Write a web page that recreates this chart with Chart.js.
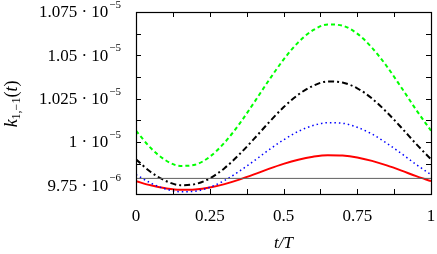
<!DOCTYPE html>
<html>
<head>
<meta charset="utf-8">
<script src="https://cdn.jsdelivr.net/npm/chart.js@4/dist/chart.umd.min.js"></script>
<style>
  html, body { margin: 0; padding: 0; background: #fff; }
  #wrap { width: 437px; height: 254px; }
</style>
</head>
<body>
<div id="wrap"><canvas id="myChart" width="437" height="254"></canvas></div>
<script>
'use strict';

// t/T sample points
const tValues = [0, 0.05, 0.1, 0.15, 0.2, 0.25, 0.3, 0.35, 0.4, 0.45, 0.5,
                 0.55, 0.6, 0.65, 0.7, 0.75, 0.8, 0.85, 0.9, 0.95, 1];

// k values, in units of 1e-6
const greenValues = [10.065, 9.965, 9.895, 9.862, 9.869, 9.915, 9.996, 10.103, 10.227, 10.355, 10.475,
                     10.575, 10.645, 10.678, 10.671, 10.625, 10.544, 10.437, 10.313, 10.185, 10.065];
const blackValues = [9.90, 9.827, 9.776, 9.751, 9.757, 9.79, 9.849, 9.928, 10.018, 10.112, 10.20,
                     10.273, 10.324, 10.349, 10.343, 10.31, 10.251, 10.172, 10.082, 9.988, 9.90];
const blueValues = [9.812, 9.763, 9.729, 9.713, 9.716, 9.739, 9.778, 9.831, 9.891, 9.954, 10.012,
                    10.061, 10.095, 10.111, 10.108, 10.085, 10.046, 9.993, 9.933, 9.870, 9.812];
const redValues = [9.774, 9.75, 9.733, 9.724, 9.726, 9.737, 9.757, 9.783, 9.813, 9.845, 9.874,
                   9.898, 9.915, 9.924, 9.922, 9.911, 9.891, 9.865, 9.835, 9.803, 9.774];
const baseLine = [9.79, 9.79];
const baseX = [0, 1];

// tick labels
const xTickLabels = [
    { value: 0, text: '0' },
    { value: 0.25, text: '0.25' },
    { value: 0.5, text: '0.5' },
    { value: 0.75, text: '0.75' },
    { value: 1, text: '1' }
];
const yTickLabels = [
    { value: 9.75, mant: '9.75', exp: '\u22126' },
    { value: 10, mant: '1', exp: '\u22125' },
    { value: 10.25, mant: '1.025', exp: '\u22125' },
    { value: 10.5, mant: '1.05', exp: '\u22125' },
    { value: 10.75, mant: '1.075', exp: '\u22125' }
];

const FONT = '"Liberation Serif", "DejaVu Serif", serif';

function toPoints(xs, ys) {
    return xs.map(function(x, i) { return { x: x, y: ys[i] }; });
}

function curve(values, color, dash, width) {
    return {
        data: toPoints(tValues, values),
        borderColor: color,
        borderWidth: width,
        borderDash: dash,
        pointRadius: 0,
        fill: false,
        cubicInterpolationMode: 'monotone'
    };
}

/* ticks inward + labels with exponents */
const gnuplotLook = {
    id: 'gnuplotLook',
    afterDatasetsDraw: function(chart) {
        const ctx = chart.ctx;
        const a = chart.chartArea;
        const xs = chart.scales.x;
        const ys = chart.scales.y;
        ctx.save();
        ctx.strokeStyle = '#000';
        ctx.lineWidth = 1;
        ctx.beginPath();
        for (let tick of xs.ticks) {
            const px = Math.round(xs.getPixelForValue(tick.value)) + 0.5;
            ctx.moveTo(px, a.bottom); ctx.lineTo(px, a.bottom - 5);
            ctx.moveTo(px, a.top); ctx.lineTo(px, a.top + 5);
        }
        for (let tick of ys.ticks) {
            const py = Math.round(ys.getPixelForValue(tick.value)) + 0.5;
            ctx.moveTo(a.left, py); ctx.lineTo(a.left + 5, py);
            ctx.moveTo(a.right, py); ctx.lineTo(a.right - 5, py);
        }
        ctx.stroke();
        ctx.lineWidth = 1.2;
        ctx.strokeRect(Math.round(a.left) + 0.5, Math.round(a.top) + 0.5,
                       Math.round(a.right - a.left), Math.round(a.bottom - a.top));

        ctx.fillStyle = '#000';

        // x labels
        ctx.font = '17px ' + FONT;
        ctx.textAlign = 'center';
        ctx.textBaseline = 'middle';
        for (let lab of xTickLabels) {
            ctx.fillText(lab.text, xs.getPixelForValue(lab.value), 217);
        }

        // y labels
        for (let lab of yTickLabels) {
            const py = ys.getPixelForValue(lab.value);
            ctx.font = '11px ' + FONT;
            const ew = ctx.measureText(lab.exp).width;
            const right = a.left - 15;
            ctx.textAlign = 'left';
            ctx.fillText(lab.exp, right - ew, py - 7);
            ctx.font = '17px ' + FONT;
            ctx.textAlign = 'right';
            ctx.fillText(lab.mant + ' \u00b7 10', right - ew - 1, py + 1);
        }

        // x title
        ctx.font = 'italic 17px ' + FONT;
        ctx.textAlign = 'center';
        ctx.fillText('t/T', (a.left + a.right) / 2, 244);

        // y title
        ctx.translate(12, 104);
        ctx.rotate(-Math.PI / 2);
        ctx.textAlign = 'left';
        ctx.font = 'italic 18px ' + FONT;
        const w1 = ctx.measureText('k').width;
        ctx.font = '12px ' + FONT;
        const w2 = ctx.measureText('1,\u22121').width;
        ctx.font = '18px ' + FONT;
        const w3 = ctx.measureText('(t)').width;
        let x0 = -(w1 + w2 + w3) / 2;
        ctx.font = 'italic 18px ' + FONT;
        ctx.fillText('k', x0, 0);
        ctx.font = '12px ' + FONT;
        ctx.fillText('1,\u22121', x0 + w1, 5);
        ctx.font = '18px ' + FONT;
        ctx.fillText('(', x0 + w1 + w2, 0);
        const wp = ctx.measureText('(').width;
        ctx.font = 'italic 18px ' + FONT;
        ctx.fillText('t', x0 + w1 + w2 + wp, 0);
        const wt = ctx.measureText('t').width;
        ctx.font = '18px ' + FONT;
        ctx.fillText(')', x0 + w1 + w2 + wp + wt, 0);
        ctx.restore();
    }
};

const ctx = document.getElementById('myChart').getContext('2d');

const chart = new Chart(ctx, {
    type: 'line',
    data: {
        datasets: [
            {
                data: toPoints(baseX, baseLine),
                borderColor: '#606060',
                borderWidth: 1,
                pointRadius: 0,
                fill: false
            },
            curve(greenValues, '#00ff00', [4, 3], 2),
            curve(blackValues, '#000000', [6, 3, 2, 3], 2),
            curve(blueValues, '#0000ff', [1.5, 3], 1.5),
            curve(redValues, '#ff0000', [], 2)
        ]
    },
    options: {
        responsive: false,
        animation: false,
        layout: { padding: { left: 0, right: 6, top: 12, bottom: 0 } },
        plugins: {
            legend: { display: false },
            tooltip: { enabled: false }
        },
        scales: {
            x: {
                type: 'linear',
                min: 0,
                max: 1,
                border: { display: false },
                grid: { display: false, drawTicks: false },
                ticks: { stepSize: 0.125, display: false },
                afterFit: function(scale) { scale.height = 60; }
            },
            y: {
                type: 'linear',
                min: 9.7,
                max: 10.75,
                border: { display: false },
                grid: { display: false, drawTicks: false },
                ticks: { stepSize: 0.125, display: false },
                afterFit: function(scale) { scale.width = 136; }
            }
        }
    },
    plugins: [gnuplotLook]
});
</script>
</body>
</html>
